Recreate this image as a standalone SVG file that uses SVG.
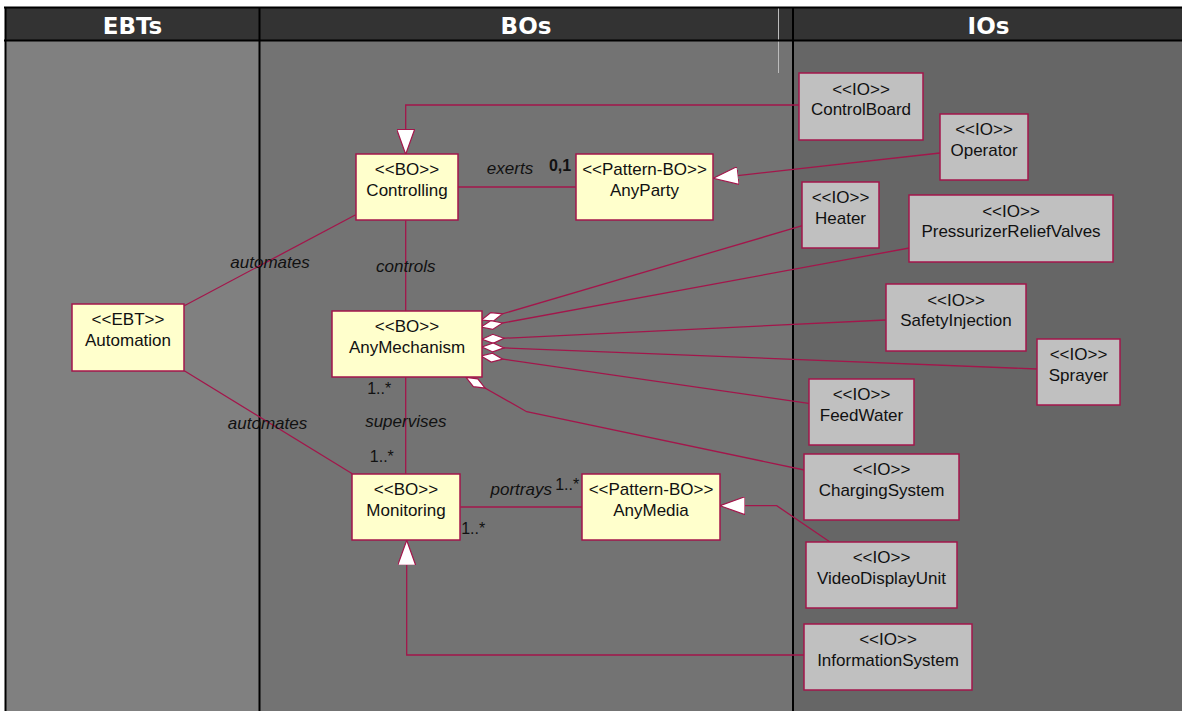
<svg xmlns="http://www.w3.org/2000/svg" width="1182" height="711" viewBox="0 0 1182 711">
<style>
.hdr{font-family:"DejaVu Sans",Verdana,sans-serif;font-weight:bold;font-size:23px;fill:#ffffff;text-anchor:middle}
.box{stroke:#a3164b;stroke-width:1.5}
.bo{fill:#ffffcc}
.io{fill:#c0c0c0}
.t{font-family:"Liberation Sans",Arial,sans-serif;font-size:17px;fill:#111111;text-anchor:middle}
.lbl{font-family:"Liberation Sans",Arial,sans-serif;font-size:17px;font-style:italic;fill:#111111;text-anchor:middle}
.mul{font-family:"Liberation Sans",Arial,sans-serif;font-size:16px;fill:#111111;text-anchor:middle}
.conn{fill:none;stroke:#a3164b;stroke-width:1.3}
.gen{marker-end:url(#tri)}
.agg{marker-start:url(#dia)}
</style>
<defs>
<marker id="tri" markerUnits="userSpaceOnUse" viewBox="0 0 25 18" refX="25" refY="9" markerWidth="25" markerHeight="18" orient="auto">
<path d="M0,0 L25,9 L0,18 Z" fill="#ffffff" stroke="#a3164b" stroke-width="1.2"/>
</marker>
<marker id="dia" markerUnits="userSpaceOnUse" viewBox="-1 -1 24 11" refX="0" refY="4.5" markerWidth="24" markerHeight="11" orient="auto">
<path d="M0,4.5 L11,0 L22,4.5 L11,9 Z" fill="#ffffff" stroke="#a3164b" stroke-width="1.2"/>
</marker>
</defs>
<rect width="1182" height="711" fill="#ffffff"/>
<g id="lanes">
<rect x="5" y="8" width="255" height="703" fill="#808080"/>
<rect x="260" y="8" width="533" height="703" fill="#737373"/>
<rect x="793" y="8" width="389" height="703" fill="#666666"/>
<rect x="5" y="8" width="1177" height="32" fill="#333333"/>
<line x1="778.5" y1="8" x2="778.5" y2="73" stroke="#bcbcbc" stroke-width="1"/>
<line x1="5.5" y1="7" x2="5.5" y2="711" stroke="#000" stroke-width="2"/>
<line x1="4" y1="7.5" x2="1182" y2="7.5" stroke="#000" stroke-width="2"/>
<line x1="4" y1="40.5" x2="1182" y2="40.5" stroke="#000" stroke-width="2"/>
<line x1="259.5" y1="7" x2="259.5" y2="711" stroke="#000" stroke-width="2"/>
<line x1="793" y1="7" x2="793" y2="711" stroke="#000" stroke-width="2"/>
<text class="hdr" x="132.5" y="34">EBTs</text>
<text class="hdr" x="526" y="34">BOs</text>
<text class="hdr" x="988.5" y="34">IOs</text>
</g>
<g id="connectors">
<path class="conn gen" d="M799,105 H405.7 V154.3"/>
<path class="conn gen" d="M940,153 L713.3,178.3"/>
<path class="conn" d="M457.7,187 H575.7"/>
<path class="conn" d="M405.7,220.3 V311"/>
<path class="conn" d="M184.3,305.7 L355.7,214.7"/>
<path class="conn" d="M184.3,370.7 L352.3,473.7"/>
<path class="conn" d="M405.7,377.3 V473.7"/>
<path class="conn" d="M460.3,507 H582"/>
<path class="conn gen" d="M830,542 L776.7,505.7 H720"/>
<path class="conn gen" d="M804.3,655 H406.7 V540.3"/>
<path class="conn agg" d="M481.5,320 L802.3,225.7"/>
<path class="conn agg" d="M481,327 L909.3,248"/>
<path class="conn agg" d="M482,339.3 L885.7,320"/>
<path class="conn agg" d="M482,347 L1036.7,369"/>
<path class="conn agg" d="M481,356 L808.7,403.3"/>
<path class="conn agg" d="M466,377.3 L526.7,411.7 L804.3,470"/>
<text class="lbl" x="510" y="174">exerts</text>
<text class="mul" x="560" y="171" font-weight="bold">0,1</text>
<text class="lbl" x="405.8" y="271.7">controls</text>
<text class="lbl" x="270" y="267.7">automates</text>
<text class="lbl" x="267.5" y="429.3">automates</text>
<text class="mul" x="379.2" y="394.3">1..*</text>
<text class="lbl" x="405.8" y="426.7">supervises</text>
<text class="mul" x="381.8" y="461.5">1..*</text>
<text class="lbl" x="521.2" y="495">portrays</text>
<text class="mul" x="567.2" y="490">1..*</text>
<text class="mul" x="473.2" y="534.3">1..*</text>
</g>
<g id="Automation"><rect class="box bo" x="72" y="304" width="112" height="67"/><text class="t" x="128" y="325">&lt;&lt;EBT&gt;&gt;</text><text class="t" x="128" y="345.5">Automation</text></g>
<g id="Controlling"><rect class="box bo" x="356" y="154" width="102" height="66"/><text class="t" x="407" y="175">&lt;&lt;BO&gt;&gt;</text><text class="t" x="407" y="195.5">Controlling</text></g>
<g id="AnyParty"><rect class="box bo" x="576" y="154" width="137" height="66"/><text class="t" x="644.5" y="175">&lt;&lt;Pattern-BO&gt;&gt;</text><text class="t" x="644.5" y="195.5">AnyParty</text></g>
<g id="AnyMechanism"><rect class="box bo" x="332" y="311" width="150" height="66"/><text class="t" x="407" y="332">&lt;&lt;BO&gt;&gt;</text><text class="t" x="407" y="352.5">AnyMechanism</text></g>
<g id="Monitoring"><rect class="box bo" x="352" y="474" width="108" height="66"/><text class="t" x="406" y="495">&lt;&lt;BO&gt;&gt;</text><text class="t" x="406" y="515.5">Monitoring</text></g>
<g id="AnyMedia"><rect class="box bo" x="582" y="474" width="138" height="66"/><text class="t" x="651" y="495">&lt;&lt;Pattern-BO&gt;&gt;</text><text class="t" x="651" y="515.5">AnyMedia</text></g>
<g id="ControlBoard"><rect class="box io" x="799" y="73" width="124" height="67"/><text class="t" x="861" y="94.5">&lt;&lt;IO&gt;&gt;</text><text class="t" x="861" y="114.5">ControlBoard</text></g>
<g id="Operator"><rect class="box io" x="940" y="114" width="88" height="66"/><text class="t" x="984" y="135">&lt;&lt;IO&gt;&gt;</text><text class="t" x="984" y="155.5">Operator</text></g>
<g id="Heater"><rect class="box io" x="802" y="182" width="77" height="66"/><text class="t" x="840.5" y="203">&lt;&lt;IO&gt;&gt;</text><text class="t" x="840.5" y="223.5">Heater</text></g>
<g id="PressurizerReliefValves"><rect class="box io" x="909" y="195" width="204" height="67"/><text class="t" x="1011" y="216.5">&lt;&lt;IO&gt;&gt;</text><text class="t" x="1011" y="237">PressurizerReliefValves</text></g>
<g id="SafetyInjection"><rect class="box io" x="886" y="284" width="140" height="67"/><text class="t" x="956" y="305.5">&lt;&lt;IO&gt;&gt;</text><text class="t" x="956" y="326">SafetyInjection</text></g>
<g id="Sprayer"><rect class="box io" x="1037" y="339" width="83" height="66"/><text class="t" x="1078.5" y="360">&lt;&lt;IO&gt;&gt;</text><text class="t" x="1078.5" y="380.5">Sprayer</text></g>
<g id="FeedWater"><rect class="box io" x="809" y="379" width="105" height="66"/><text class="t" x="861.5" y="400">&lt;&lt;IO&gt;&gt;</text><text class="t" x="861.5" y="420.5">FeedWater</text></g>
<g id="ChargingSystem"><rect class="box io" x="804" y="454" width="155" height="66"/><text class="t" x="881.5" y="475">&lt;&lt;IO&gt;&gt;</text><text class="t" x="881.5" y="495.5">ChargingSystem</text></g>
<g id="VideoDisplayUnit"><rect class="box io" x="806" y="542" width="151" height="66"/><text class="t" x="881.5" y="563">&lt;&lt;IO&gt;&gt;</text><text class="t" x="881.5" y="583.5">VideoDisplayUnit</text></g>
<g id="InformationSystem"><rect class="box io" x="804" y="624" width="168" height="66"/><text class="t" x="888" y="645">&lt;&lt;IO&gt;&gt;</text><text class="t" x="888" y="665.5">InformationSystem</text></g>
</svg>
